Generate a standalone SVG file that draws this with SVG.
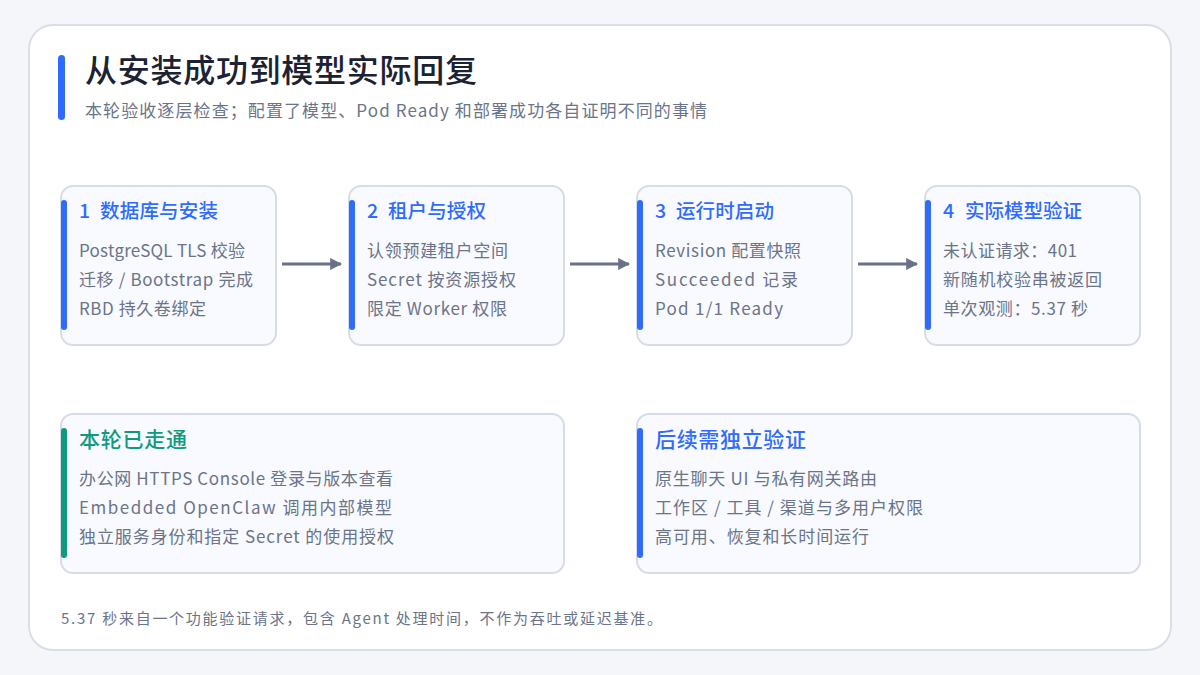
<svg xmlns="http://www.w3.org/2000/svg" width="1200" height="675" viewBox="0 0 1200 675">
<defs>
<style>
text{font-family:"Noto Sans CJK SC","Noto Sans",sans-serif;}
.card{fill:#f8faff;stroke:#d6dce8;stroke-width:2;}
.bar{fill:#2f6bff;}
.gbar{fill:#0f9a80;}
.h{font-size:19.5px;font-weight:500;fill:#2f6bff;}
.hb{font-size:21px;font-weight:500;fill:#2f6bff;}
.hg{font-size:21px;font-weight:500;fill:#0f9a80;}
.t{font-size:17px;fill:#6b7488;}
.conn{stroke:#687186;stroke-width:3;fill:none;}
</style>
<marker id="ah" viewBox="0 0 10 10" refX="9" refY="5" markerWidth="4" markerHeight="4" markerUnits="strokeWidth" orient="auto">
<path d="M0,0 L10,5 L0,10 z" fill="#687186"/>
</marker>
</defs>
<rect width="1200" height="675" fill="#f4f6fa"/>
<rect x="29" y="25" width="1142" height="625" rx="24" fill="#ffffff" stroke="#d9dfea" stroke-width="2"/>
<rect x="58" y="55" width="7" height="65" rx="3.5" class="bar"/>
<text x="85" y="82" textLength="392" lengthAdjust="spacing" style="font-size:32px;font-weight:500;fill:#1b2233">从安装成功到模型实际回复</text>
<text x="85" y="117" textLength="622" lengthAdjust="spacing" style="font-size:17px;fill:#6b7488">本轮验收逐层检查；配置了模型、Pod Ready 和部署成功各自证明不同的事情</text>

<g id="connectors">
<line x1="282" y1="264" x2="341" y2="264" class="conn" marker-end="url(#ah)"/>
<line x1="570" y1="264" x2="629" y2="264" class="conn" marker-end="url(#ah)"/>
<line x1="858" y1="264" x2="917" y2="264" class="conn" marker-end="url(#ah)"/>
</g>

<g id="step1">
<rect x="61" y="186" width="215" height="159" rx="12" class="card"/>
<rect x="61" y="200" width="6" height="130" rx="3" class="bar"/>
<text x="79" y="218" class="h">1</text>
<text x="100" y="218" class="h" textLength="118" lengthAdjust="spacing">数据库与安装</text>
<text x="79" y="257" class="t" textLength="166" lengthAdjust="spacing">PostgreSQL TLS 校验</text>
<text x="79" y="286" class="t" textLength="174" lengthAdjust="spacing">迁移 / Bootstrap 完成</text>
<text x="79" y="315" class="t" textLength="127" lengthAdjust="spacing">RBD 持久卷绑定</text>
</g>
<g id="step2">
<rect x="349" y="186" width="215" height="159" rx="12" class="card"/>
<rect x="349" y="200" width="6" height="130" rx="3" class="bar"/>
<text x="367" y="218" class="h">2</text>
<text x="388" y="218" class="h" textLength="98" lengthAdjust="spacing">租户与授权</text>
<text x="367" y="257" class="t" textLength="141" lengthAdjust="spacing">认领预建租户空间</text>
<text x="367" y="286" class="t" textLength="149" lengthAdjust="spacing">Secret 按资源授权</text>
<text x="367" y="315" class="t" textLength="140" lengthAdjust="spacing">限定 Worker 权限</text>
</g>
<g id="step3">
<rect x="637" y="186" width="215" height="159" rx="12" class="card"/>
<rect x="637" y="200" width="6" height="130" rx="3" class="bar"/>
<text x="655" y="218" class="h">3</text>
<text x="676" y="218" class="h" textLength="98" lengthAdjust="spacing">运行时启动</text>
<text x="655" y="257" class="t" textLength="146" lengthAdjust="spacing">Revision 配置快照</text>
<text x="655" y="286" class="t" textLength="143" lengthAdjust="spacing">Succeeded 记录</text>
<text x="655" y="315" class="t" textLength="128" lengthAdjust="spacing">Pod 1/1 Ready</text>
</g>
<g id="step4">
<rect x="925" y="186" width="215" height="159" rx="12" class="card"/>
<rect x="925" y="200" width="6" height="130" rx="3" class="bar"/>
<text x="943" y="218" class="h">4</text>
<text x="965" y="218" class="h" textLength="117" lengthAdjust="spacing">实际模型验证</text>
<text x="943" y="257" class="t" textLength="134" lengthAdjust="spacing">未认证请求：401</text>
<text x="943" y="286" class="t" textLength="159" lengthAdjust="spacing">新随机校验串被返回</text>
<text x="943" y="315" class="t" textLength="145" lengthAdjust="spacing">单次观测：5.37 秒</text>
</g>

<g id="done">
<rect x="61" y="414" width="503" height="159" rx="12" class="card"/>
<rect x="61" y="428" width="6" height="130" rx="3" class="gbar"/>
<text x="79" y="447" class="hg" textLength="108" lengthAdjust="spacing">本轮已走通</text>
<text x="79" y="485" class="t" textLength="314" lengthAdjust="spacing">办公网 HTTPS Console 登录与版本查看</text>
<text x="79" y="514" class="t" textLength="313" lengthAdjust="spacing">Embedded OpenClaw 调用内部模型</text>
<text x="79" y="543" class="t" textLength="315" lengthAdjust="spacing">独立服务身份和指定 Secret 的使用授权</text>
</g>
<g id="todo">
<rect x="637" y="414" width="503" height="159" rx="12" class="card"/>
<rect x="637" y="428" width="6" height="130" rx="3" class="bar"/>
<text x="655" y="447" class="hb" textLength="151" lengthAdjust="spacing">后续需独立验证</text>
<text x="655" y="485" class="t" textLength="222" lengthAdjust="spacing">原生聊天 UI 与私有网关路由</text>
<text x="655" y="514" class="t" textLength="268" lengthAdjust="spacing">工作区 / 工具 / 渠道与多用户权限</text>
<text x="655" y="543" class="t" textLength="214" lengthAdjust="spacing">高可用、恢复和长时间运行</text>
</g>

<text x="61" y="624" textLength="601" lengthAdjust="spacing" style="font-size:15px;fill:#6b7488">5.37 秒来自一个功能验证请求，包含 Agent 处理时间，不作为吞吐或延迟基准。</text>
</svg>
